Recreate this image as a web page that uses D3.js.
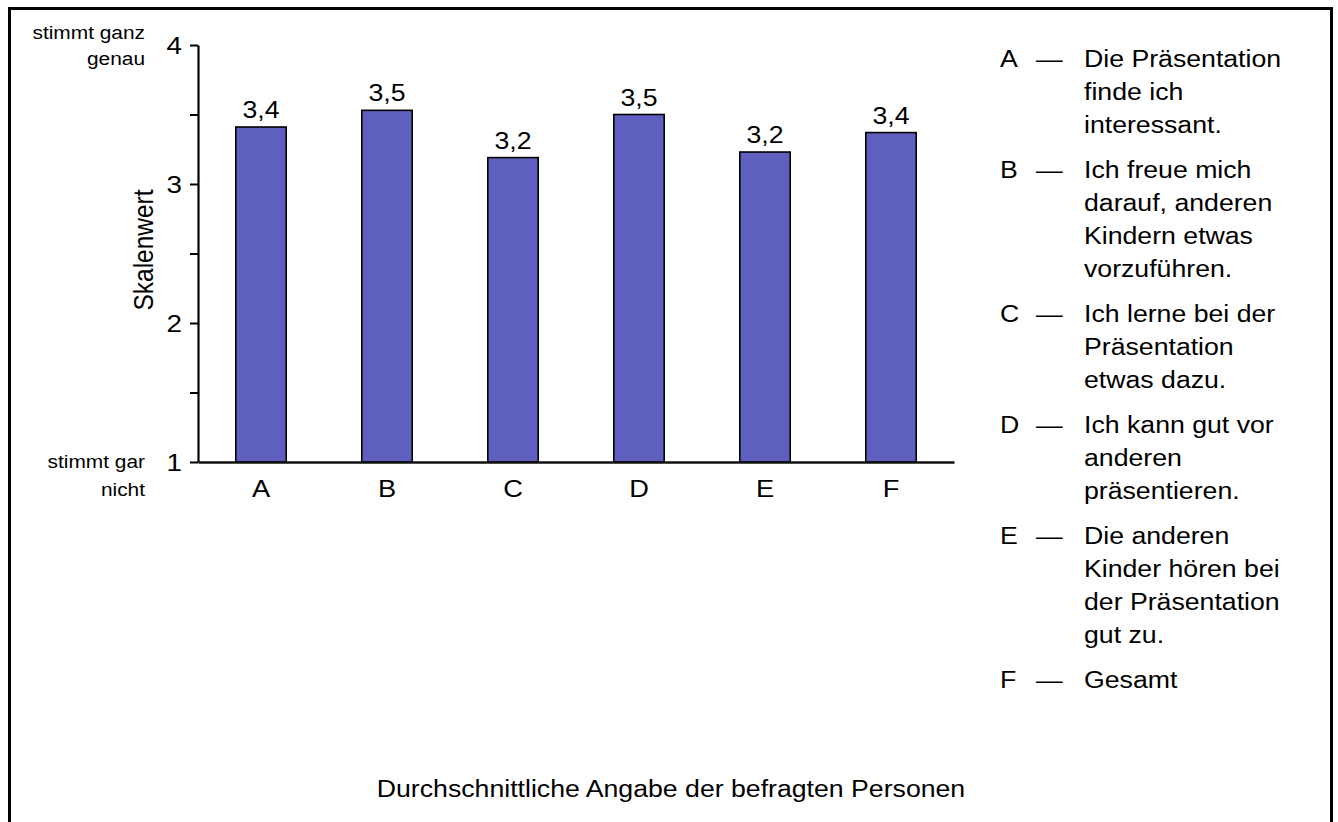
<!DOCTYPE html>
<html>
<head>
<meta charset="utf-8">
<script src="https://cdn.jsdelivr.net/npm/d3@7"></script>
<style>
  html, body { margin: 0; padding: 0; background: #fff; }
  svg { display: block; }
  text { font-family: "Liberation Sans", Arial, Helvetica, sans-serif; fill: #000; }
</style>
</head>
<body>
<svg id="chart" width="1338" height="822"></svg>
<script>
// ---- data ----
const categories = ["A", "B", "C", "D", "E", "F"];
const values = [3.41, 3.53, 3.19, 3.50, 3.23, 3.37];
const valueLabels = ["3,4", "3,5", "3,2", "3,5", "3,2", "3,4"];
const yTicks = [1, 1.5, 2, 2.5, 3, 3.5, 4];
const yTickLabels = {1: "1", 2: "2", 3: "3", 4: "4"};
const topAnchorLabel = ["stimmt ganz", "genau"];
const bottomAnchorLabel = ["stimmt gar", "nicht"];
const yTitle = "Skalenwert";
const xTitle = "Durchschnittliche Angabe der befragten Personen";
const legendLetters = ["A", "B", "C", "D", "E", "F"];
const legendTexts = [
  ["Die Präsentation", "finde ich", "interessant."],
  ["Ich freue mich", "darauf, anderen", "Kindern etwas", "vorzuführen."],
  ["Ich lerne bei der", "Präsentation", "etwas dazu."],
  ["Ich kann gut vor", "anderen", "präsentieren."],
  ["Die anderen", "Kinder hören bei", "der Präsentation", "gut zu."],
  ["Gesamt"]
];

// ---- layout ----
const SX = 1.16; // horizontal text stretch
const svg = d3.select("#chart");

// frame
svg.append("rect")
  .attr("x", 9.5).attr("y", 8.5)
  .attr("width", 1322).attr("height", 840)
  .attr("fill", "none").attr("stroke", "#000").attr("stroke-width", 3);

function stext(g, x, y, str, size, anchor) {
  return g.append("text")
    .attr("transform", `translate(${x},${y}) scale(${SX},1)`)
    .attr("text-anchor", anchor || "start")
    .style("font-size", size + "px")
    .text(str);
}

const x = d3.scaleBand().domain(categories).range([198, 954])
  .paddingInner(0.6).paddingOuter(0.3);
const y = d3.scaleLinear().domain([1, 4]).range([462, 45]);

// bars
svg.append("g").selectAll("rect")
  .data(categories)
  .join("rect")
  .attr("x", d => x(d))
  .attr("y", (d, i) => y(values[i]))
  .attr("width", x.bandwidth())
  .attr("height", (d, i) => y(1) - y(values[i]))
  .attr("fill", "#5f5fbf")
  .attr("stroke", "#000")
  .attr("stroke-width", 1.6);

// value labels
const vl = svg.append("g");
categories.forEach((c, i) => {
  stext(vl, x(c) + x.bandwidth() / 2, y(values[i]) - 9, valueLabels[i], 23, "middle");
});

// y axis
const yAxis = svg.append("g")
  .attr("transform", "translate(198,0)")
  .call(d3.axisLeft(y).tickValues(yTicks).tickSize(8).tickSizeOuter(0)
    .tickFormat(d => yTickLabels[d] || ""));
yAxis.select(".domain").attr("stroke", "#000").attr("stroke-width", 2.2);
yAxis.selectAll(".tick line").attr("stroke", "#000").attr("stroke-width", 2);
yAxis.selectAll(".tick text")
  .attr("x", null).attr("dy", "0.36em")
  .attr("transform", `translate(-16,0) scale(${SX},1)`)
  .style("font-family", "'Liberation Sans', Arial, sans-serif")
  .style("font-size", "24px").attr("fill", "#000");

// x axis
const xAxis = svg.append("g")
  .attr("transform", "translate(0,462)")
  .call(d3.axisBottom(x).tickSize(0).tickSizeOuter(0));
xAxis.select(".domain").attr("stroke", "#111").attr("stroke-width", 2.4);
xAxis.selectAll(".tick text")
  .attr("y", null).attr("dy", null)
  .attr("transform", `translate(0,35) scale(${SX},1)`)
  .style("font-family", "'Liberation Sans', Arial, sans-serif")
  .style("font-size", "23.5px").attr("fill", "#000");

// anchor labels
const al = svg.append("g");
stext(al, 145, 39, topAnchorLabel[0], 18, "end");
stext(al, 145, 65, topAnchorLabel[1], 18, "end");
stext(al, 145, 468, bottomAnchorLabel[0], 18, "end");
stext(al, 145, 496, bottomAnchorLabel[1], 18, "end");

// y title
svg.append("text")
  .attr("transform", `translate(153,250) scale(${SX},1) rotate(-90)`)
  .attr("text-anchor", "middle")
  .style("font-size", "24.5px")
  .text(yTitle);

// x title
stext(svg, 671, 797, xTitle, 23, "middle");

// legend
const lg = svg.append("g");
const lineH = 33, itemGap = 12;
let ly = 67;
legendLetters.forEach((L, i) => {
  stext(lg, 1000, ly, L, 23, "start");
  stext(lg, 1036, ly, "—", 23, "start");
  legendTexts[i].forEach((t, j) => {
    stext(lg, 1084, ly + j * lineH, t, 23, "start");
  });
  ly += legendTexts[i].length * lineH + itemGap;
});
</script>
</body>
</html>
